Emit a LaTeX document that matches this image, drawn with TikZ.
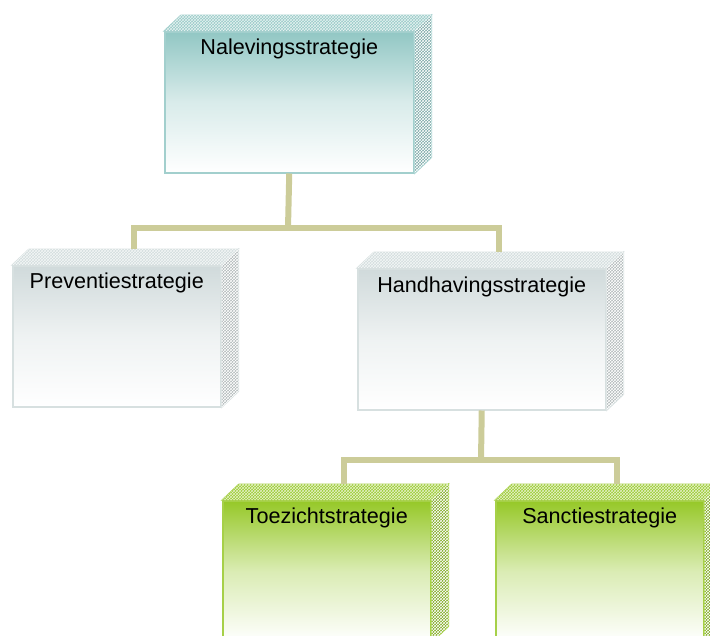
\documentclass[tikz,border=0pt]{standalone}
\usepackage{fontspec}
\setmainfont{Liberation Sans}
\usetikzlibrary{positioning, patterns}

\definecolor{tealc}{RGB}{146,199,196}
\definecolor{grayc}{RGB}{208,218,219}
\definecolor{greenc}{RGB}{150,200,40}
\definecolor{linkc}{RGB}{204,204,153}

\begin{document}
\begin{tikzpicture}[x=1pt, y=-1pt,
  box/.style={rectangle, anchor=north west, inner sep=0pt, minimum height=141pt,
    top color=#1, bottom color=white, middle color=#1!35!white, draw=#1!85!white, line width=1.5pt},
  boxtext/.style={inner sep=0pt, font=\fontsize{21.6}{26}\selectfont},
  link/.style={linkc, line width=6pt}]
\useasboundingbox (0,0) rectangle (710,635);
\clip (0,0) rectangle (710,635);

\node[box=tealc, minimum width=249pt] (naleving) at (164,31) {};
\node[box=grayc, minimum width=208pt] (preventie) at (12,265) {};
\node[box=grayc, minimum width=248pt] (handhaving) at (357,268) {};
\node[box=greenc, minimum width=208pt] (toezicht) at (222,500) {};
\node[box=greenc, minimum width=208pt] (sanctie) at (495,500) {};

% top and side faces
\foreach \b/\c in {naleving/tealc, preventie/grayc, handhaving/grayc, toezicht/greenc, sanctie/greenc}{
  \path[fill=\c!95!white, draw=\c!85!white, line width=1pt]
    (\b.north west) -- ++(17,-16) -- ([shift={(17,-16)}]\b.north east) -- (\b.north east) -- cycle;
  \path[fill=\c!85!black, draw=\c!85!white, line width=1pt]
    (\b.north east) -- ([shift={(17,-16)}]\b.north east) -- ([shift={(17,-16)}]\b.south east) -- (\b.south east) -- cycle;
  \path[pattern=crosshatch, pattern color=white!75!\c]
    (\b.north west) -- ++(17,-16) -- ([shift={(17,-16)}]\b.north east) -- (\b.north east) -- cycle;
  \path[pattern=crosshatch, pattern color=white]
    (\b.north east) -- ([shift={(17,-16)}]\b.north east) -- ([shift={(17,-16)}]\b.south east) -- (\b.south east) -- cycle;
}

\node[boxtext, below=8pt of naleving.north] (naleving-text) {Nalevingsstrategie};
\node[boxtext, below=8pt of preventie.north] (preventie-text) {Preventiestrategie};
\node[boxtext, below=9pt of handhaving.north] (handhaving-text) {Handhavingsstrategie};
\node[boxtext, below=8pt of toezicht.north] (toezicht-text) {Toezichtstrategie};
\node[boxtext, below=8pt of sanctie.north] (sanctie-text) {Sanctiestrategie};

\coordinate (j1) at (288,228);
\coordinate (j2) at (481,460);
\draw[link] (naleving.south) -- (j1);
\draw[link] ([shift={(17,-16)}]preventie.north) |- (j1) -| ([shift={(17,-16)}]handhaving.north);
\draw[link] (handhaving.south) -- (j2);
\draw[link] ([shift={(17,-16)}]toezicht.north) |- (j2) -| ([shift={(17,-16)}]sanctie.north);
\end{tikzpicture}
\end{document}
